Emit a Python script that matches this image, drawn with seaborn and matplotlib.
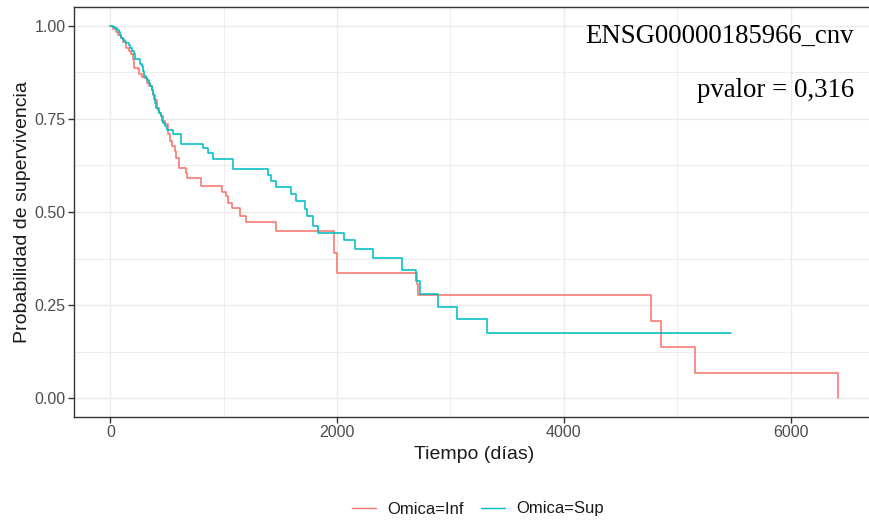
import numpy as np
import pandas as pd
import matplotlib
matplotlib.use("Agg")
import matplotlib.pyplot as plt
import seaborn as sns
from matplotlib.ticker import FixedLocator
from matplotlib.lines import Line2D

# ---- data ----
inf_time = [0, 25, 50, 70, 90, 115, 140, 160, 180, 200, 206, 245, 255, 275,
            300, 320, 345, 365, 380, 395, 410, 430, 445, 460, 478, 508, 523,
            546, 567, 582, 603, 664, 676, 797, 985, 1017, 1038, 1076, 1141,
            1200, 1465, 1970, 2000, 2703, 2712, 4765, 4853, 5156, 6415]
inf_surv = [1.0, 0.991, 0.984, 0.975, 0.966, 0.955, 0.941, 0.932, 0.923,
            0.910, 0.887, 0.883, 0.869, 0.862, 0.859, 0.847, 0.838, 0.826,
            0.813, 0.800, 0.780, 0.766, 0.757, 0.744, 0.735, 0.708, 0.690,
            0.676, 0.663, 0.645, 0.618, 0.605, 0.591, 0.569, 0.555, 0.542,
            0.524, 0.510, 0.490, 0.472, 0.448, 0.390, 0.336, 0.306, 0.277,
            0.208, 0.139, 0.069, 0.0]

sup_time = [0, 25, 45, 55, 75, 85, 95, 112, 125, 142, 162, 176, 191, 205,
            220, 262, 278, 286, 298, 316, 327, 345, 351, 365, 380, 386, 395,
            403, 424, 433, 444, 453, 468, 482, 497, 549, 626, 817, 861, 905,
            1082, 1391, 1420, 1459, 1597, 1641, 1714, 1738, 1788, 1832, 2059,
            2158, 2317, 2573, 2700, 2729, 2891, 3058, 3318, 5471]
sup_surv = [1.0, 0.997, 0.993, 0.988, 0.984, 0.975, 0.966, 0.961, 0.957,
            0.953, 0.949, 0.941, 0.932, 0.923, 0.910, 0.898, 0.892, 0.878,
            0.865, 0.859, 0.853, 0.847, 0.838, 0.826, 0.816, 0.802, 0.793,
            0.780, 0.775, 0.766, 0.757, 0.744, 0.739, 0.730, 0.721, 0.710,
            0.683, 0.672, 0.659, 0.641, 0.616, 0.600, 0.583, 0.566, 0.549,
            0.530, 0.508, 0.488, 0.463, 0.443, 0.424, 0.400, 0.376, 0.345,
            0.315, 0.281, 0.244, 0.212, 0.176, 0.176]

groups = ["Omica=Inf", "Omica=Sup"]
colors = ["#F8766D", "#00BFC4"]
gene_label = "ENSG00000185966_cnv"
pvalue_label = "pvalor = 0,316"
x_ticks = [0, 2000, 4000, 6000]
y_ticks = [0.0, 0.25, 0.50, 0.75, 1.00]
y_tick_labels = ["0.00", "0.25", "0.50", "0.75", "1.00"]
x_label = "Tiempo (días)"
y_label = "Probabilidad de supervivencia"

df = pd.concat([
    pd.DataFrame({"time": inf_time, "surv": inf_surv, "group": groups[0]}),
    pd.DataFrame({"time": sup_time, "surv": sup_surv, "group": groups[1]}),
], ignore_index=True)

# ---- style ----
sns.set_theme(style="white")
plt.rcParams["font.family"] = ["Liberation Sans", "DejaVu Sans"]

W, H = 870, 525
fig = plt.figure(figsize=(W / 100, H / 100), dpi=100)
ax = fig.add_axes([74 / W, (H - 417) / H, 800 / W, 410 / H])

sns.lineplot(data=df, x="time", y="surv", hue="group", palette=colors,
             hue_order=groups, drawstyle="steps-post", estimator=None,
             sort=False, linewidth=1.15, legend=False, ax=ax, zorder=3)

tmax = max(inf_time)
ax.set_xlim(-0.05 * tmax, 1.05 * tmax)
ax.set_ylim(-0.05, 1.05)

ax.xaxis.set_major_locator(FixedLocator(x_ticks))
ax.xaxis.set_minor_locator(FixedLocator([1000, 3000, 5000]))
ax.yaxis.set_major_locator(FixedLocator(y_ticks))
ax.yaxis.set_minor_locator(FixedLocator([0.125, 0.375, 0.625, 0.875]))
ax.set_yticklabels(y_tick_labels)
ax.set_xticklabels([str(t) for t in x_ticks])

ax.grid(which="major", color="#EBEBEB", linewidth=1.0, zorder=0)
ax.grid(which="minor", color="#EBEBEB", linewidth=0.6, zorder=0)
ax.set_axisbelow(True)

for s in ax.spines.values():
    s.set_color("#333333")
    s.set_linewidth(1.0)

ax.tick_params(which="major", axis="both", direction="out", length=4,
               width=1.0, color="#333333", labelcolor="#4D4D4D",
               labelsize=11.5, bottom=True, left=True, pad=2)
ax.tick_params(which="minor", length=0)

ax.set_xlabel(x_label, fontsize=14, color="#1A1A1A")
ax.set_ylabel(y_label, fontsize=14, color="#1A1A1A")
ax.xaxis.set_label_coords(0.5, -0.070)
ax.yaxis.set_label_coords(-0.054, 0.5)

ax.text(6559, 0.9535, gene_label, ha="right", va="baseline",
        fontsize=19.3, family=["Liberation Serif", "DejaVu Serif"],
        color="black")
ax.text(6559, 0.8087, pvalue_label, ha="right", va="baseline",
        fontsize=19.3, family=["Liberation Serif", "DejaVu Serif"],
        color="black")

handles = [Line2D([0], [0], color=c, linewidth=1.0) for c in colors]
fig.legend(handles, groups, loc="center", bbox_to_anchor=(478 / W, 1 - 509 / H),
           ncol=2, frameon=False, fontsize=12, handlelength=1.45,
           handletextpad=0.7, columnspacing=1.0, labelcolor="#1A1A1A")

fig.savefig("out.png", dpi=100)
